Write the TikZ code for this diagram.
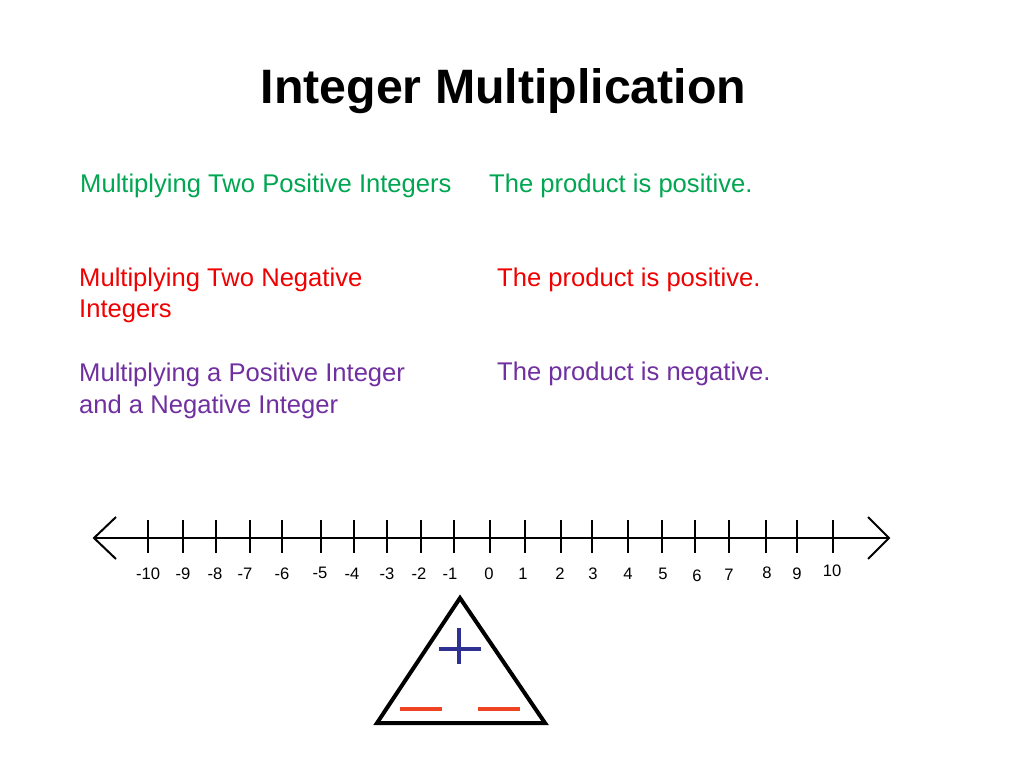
\documentclass[tikz,border=0pt]{standalone}
\usepackage{fontspec}
\setmainfont{Liberation Sans}
\definecolor{cgreen}{HTML}{00A651}
\definecolor{cred}{HTML}{F00000}
\definecolor{cpurple}{HTML}{7030A0}
\definecolor{cplus}{HTML}{2E3192}
\definecolor{cminus}{HTML}{EE4423}
\begin{document}
\begin{tikzpicture}[x=1pt,y=-1pt,
  body/.style={anchor=base west,inner sep=0pt,font=\fontsize{25.6}{31}\selectfont},
  numlab/.style={anchor=center,inner sep=0pt,font=\fontsize{16.6}{18}\selectfont},
  axis/.style={line width=2pt,black},
  tick/.style={line width=2pt,black}]
\useasboundingbox (0,0) rectangle (1024,768);
\fill[white] (0,0) rectangle (1024,768);
% title
\node[anchor=base,inner sep=0pt,font=\fontsize{48.3}{50}\selectfont\bfseries] (title) at (503.5,103) {Integer Multiplication};
% left column
\node[body,text=cgreen] (pp) at (80,192) {Multiplying Two Positive Integers};
\node[body,text=cred] (nn1) at (79,286) {Multiplying Two Negative};
\node[body,text=cred] (nn2) at (79,317) {Integers};
\node[body,text=cpurple] (pn1) at (79,381) {Multiplying a Positive Integer};
\node[body,text=cpurple] (pn2) at (79,413) {and a Negative Integer};
% right column
\node[body,text=cgreen] (rpp) at (489,192) {The product is positive.};
\node[body,text=cred] (rnn) at (497,286) {The product is positive.};
\node[body,text=cpurple] (rpn) at (497,380) {The product is negative.};
% number line
\coordinate (L) at (94,538);
\coordinate (R) at (889,538);
\draw[axis] (L) -- (R);
\draw[axis,line join=miter] (116,517) -- (L) -- (116,559);
\draw[axis,line join=miter] (868,517) -- (R) -- (868,559);
\foreach \x in {148,183,216,250,282,321,354,387,421,454,490,525,561,592,628,662,695,729,766,797,833}
  \draw[tick] (\x,520) -- (\x,553);
\foreach \x/\y/\t in {148/574/-10,183/574/-9,215/574/-8,245/574/-7,282/574/-6,320/572.5/-5,352/574/-4,387/574/-3,419/574/-2,450/574/-1,489/574/0,523/574/1,560/574/2,593/574/3,628/574/4,663/573.5/5,697/575.5/6,729/574.5/7,767/572.5/8,797/573.5/9,832/571/10}
  \node[numlab] (n\t) at (\x,\y) {\t};
% triangle
\draw[line width=4pt,line join=miter] (377,723) -- (460,598) -- (545,723) -- cycle;
\draw[cplus,line width=4pt] (439,649) -- (481,649);
\draw[cplus,line width=4pt] (459,628) -- (459,664);
\draw[cminus,line width=4.5pt] (400,709) -- (442,709);
\draw[cminus,line width=4.5pt] (478,709) -- (520,709);
\end{tikzpicture}
\end{document}
